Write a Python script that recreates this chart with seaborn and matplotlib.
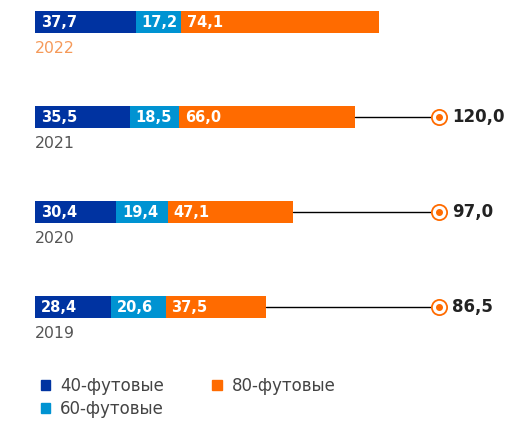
import numpy as np
import pandas as pd
import seaborn as sns
import matplotlib.pyplot as plt
from matplotlib.patches import Patch

years = ['2022', '2021', '2020', '2019']
ft40 = [37.7, 35.5, 30.4, 28.4]
ft60 = [17.2, 18.5, 19.4, 20.6]
ft80 = [74.1, 66.0, 47.1, 37.5]
totals = [None, 120.0, 97.0, 86.5]

c40 = '#0033a1'
c60 = '#0093d2'
c80 = '#ff6b00'

df = pd.DataFrame({'year': years, 'ft40': ft40, 'ft60': ft60, 'ft80': ft80})
df['s2'] = df['ft40'] + df['ft60']
df['s3'] = df['s2'] + df['ft80']

sns.set_theme(style='white')
plt.rcParams['font.family'] = ['DejaVu Sans']

fig = plt.figure(figsize=(5.06, 4.21), dpi=100)
ax = fig.add_axes([0, 0, 1, 1])

# stacked by overdrawing cumulative sums
bw = 0.225
for col, c in [('s3', c80), ('s2', c60), ('ft40', c40)]:
    sns.barplot(data=df, x=col, y='year', order=years, color=c, width=bw,
                saturation=1, ax=ax, orient='h', linewidth=0)

def fmt(v):
    return f'{v:.1f}'.replace('.', ',')

for i, row in df.iterrows():
    starts = [0, row['ft40'], row['s2']]
    vals = [row['ft40'], row['ft60'], row['ft80']]
    for s, v in zip(starts, vals):
        ax.text(s + 2.2, i + 0.01, fmt(v), color='white', fontweight='bold',
                fontsize=10.5, va='center', ha='left')
    ax.text(0, i + 0.275, row['year'], color='#f59a5a' if i == 0 else '#555555',
            fontsize=11.3, va='center', ha='left')
    if totals[i] is not None:
        ax.plot([row['s3'], 151.3], [i, i], color='black', lw=1, zorder=1)
        ax.scatter([151.3], [i], s=120, facecolor='white', edgecolor=c80,
                   linewidth=1.3, zorder=3)
        ax.scatter([151.3], [i], s=16, color=c80, zorder=4)
        ax.text(156.5, i, fmt(totals[i]), color='#222222', fontweight='bold',
                fontsize=12, va='center', ha='left')

ax.set_xlim(-13.1, 176.6)
ax.set_ylim(4.2, -0.232)
ax.set_axis_off()

handles = [Patch(color=c40, label='40-футовые'),
           Patch(color=c60, label='60-футовые'),
           Patch(color=c80, label='80-футовые')]
leg = ax.legend(handles=handles, ncol=2, loc='upper left',
                bbox_to_anchor=(0.068, 0.12), frameon=False, fontsize=12,
                handlelength=0.55, handleheight=0.55, handletextpad=0.6,
                columnspacing=2.9, labelspacing=0.3, borderaxespad=0)
for t in leg.get_texts():
    t.set_color('#444444')

fig.savefig('out.png', dpi=100)
